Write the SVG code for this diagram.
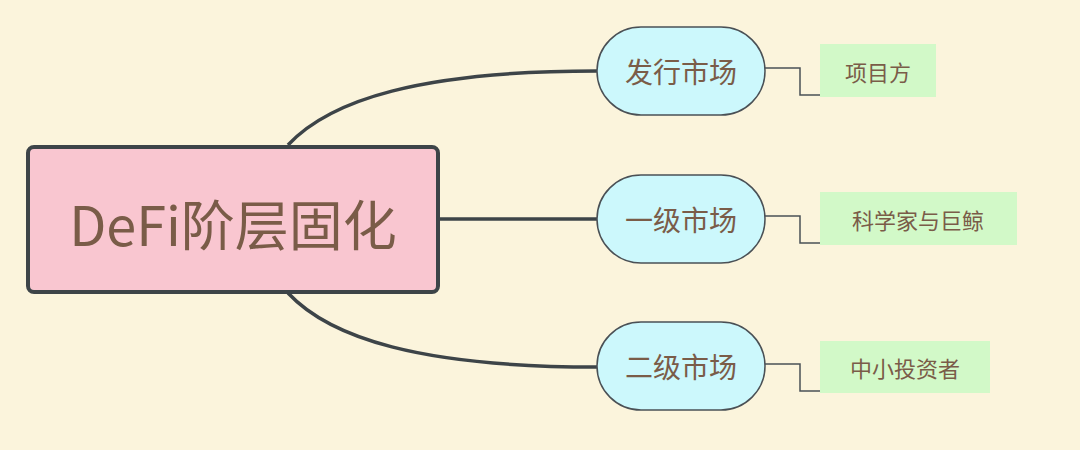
<svg xmlns="http://www.w3.org/2000/svg" width="1080" height="450" viewBox="0 0 1080 450">
<style>
.t{font-family:"Noto Sans CJK SC","Noto Sans",sans-serif;fill:#7a5c48;text-anchor:middle;dominant-baseline:central}
.b{fill:#ccf8fc;stroke:#4a5055;stroke-width:1.5}
.l{fill:#d2f9c8}
.c{fill:none;stroke:#3d4448;stroke-width:3.5}
.e{fill:none;stroke:#4a5055;stroke-width:1.5}
</style>
<rect width="1080" height="450" fill="#fbf4dc"/>
<g id="connectors">
<path class="c" d="M288,145 C330,100 420,71 597,71"/>
<path class="c" d="M438,219 L597,219"/>
<path class="c" d="M288,293 C330,338 420,367 597,367"/>
<path class="e" d="M765,68 H800 V95 H820"/>
<path class="e" d="M765,216 H800 V243 H820"/>
<path class="e" d="M765,364 H800 V391 H820"/>
</g>
<g id="root"><rect x="28" y="147" width="410" height="145" rx="6" fill="#f9c6d0" stroke="#3d4448" stroke-width="4"/><text class="t" x="233" y="222" font-size="54">DeFi阶层固化</text></g>
<g id="n1"><rect class="b" x="597" y="27" width="168" height="88" rx="44"/><text class="t" x="681" y="71" font-size="28">发行市场</text></g>
<g id="n2"><rect class="b" x="597" y="175" width="168" height="88" rx="44"/><text class="t" x="681" y="219" font-size="28">一级市场</text></g>
<g id="n3"><rect class="b" x="597" y="322" width="168" height="88" rx="44"/><text class="t" x="681" y="366" font-size="28">二级市场</text></g>
<g id="l1"><rect class="l" x="820" y="44" width="116" height="53"/><text class="t" x="878" y="71" font-size="22">项目方</text></g>
<g id="l2"><rect class="l" x="820" y="192" width="197" height="53"/><text class="t" x="918" y="219" font-size="22">科学家与巨鲸</text></g>
<g id="l3"><rect class="l" x="820" y="341" width="170" height="52"/><text class="t" x="905" y="367" font-size="22">中小投资者</text></g>
</svg>
